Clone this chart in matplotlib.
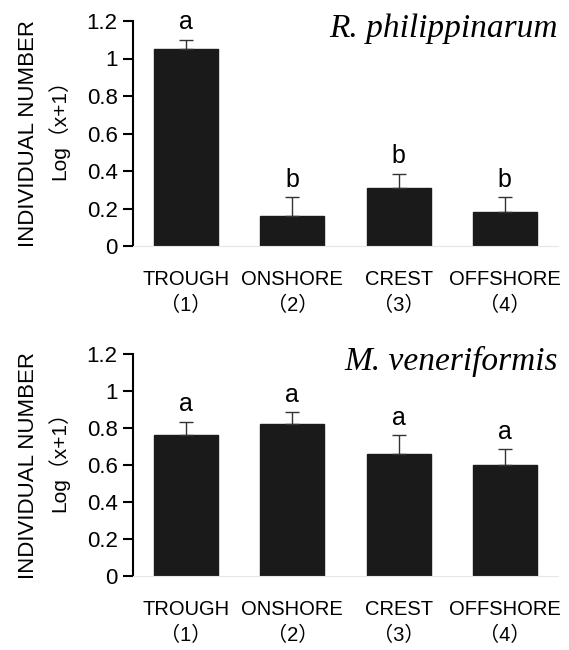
import matplotlib
matplotlib.use('Agg')
import matplotlib.pyplot as plt

plt.rcParams['font.family'] = ['Liberation Sans', 'Noto Sans CJK JP']

# Data
sites = ['TROUGH\n（1）', 'ONSHORE\n（2）', 'CREST\n（3）', 'OFFSHORE\n（4）']
rp_means = [1.05, 0.16, 0.31, 0.18]
rp_errs = [0.05, 0.10, 0.075, 0.08]
rp_letters = ['a', 'b', 'b', 'b']
mv_means = [0.76, 0.82, 0.66, 0.60]
mv_errs = [0.075, 0.065, 0.10, 0.085]
mv_letters = ['a', 'a', 'a', 'a']
yticks = [0, 0.2, 0.4, 0.6, 0.8, 1.0, 1.2]
ytick_labels = ['0', '0.2', '0.4', '0.6', '0.8', '1', '1.2']

fig = plt.figure(figsize=(5.69, 6.5), dpi=100)
ax1 = fig.add_axes([0.2337, 0.6215, 0.747, 0.3462])
ax2 = fig.add_axes([0.2337, 0.1138, 0.747, 0.3416])


def draw_panel(ax, means, errs, letters, species):
    x = range(len(sites))
    ax.bar(x, means, width=0.6, color='#1a1a1a', edgecolor='#1a1a1a', zorder=2)
    ax.errorbar(x, means, yerr=[[0] * len(errs), errs], fmt='none',
                ecolor='#333333', elinewidth=1, capsize=5, capthick=1, zorder=3)
    for i, (m, e, l) in enumerate(zip(means, errs, letters)):
        ax.text(i, m + e + 0.03, l, ha='center', va='bottom', fontsize=18)
    ax.set_xlim(-0.5, 3.5)
    ax.set_ylim(0, 1.2)
    ax.set_yticks(yticks)
    ax.set_yticklabels(ytick_labels, fontsize=16)
    ax.set_xticks(list(x))
    ax.set_xticklabels(sites, fontsize=14.5, linespacing=1.5)
    ax.tick_params(axis='x', length=0, pad=17)
    ax.tick_params(axis='y', direction='out', length=7, width=1.5, pad=4)
    for s in ['top', 'right']:
        ax.spines[s].set_visible(False)
    ax.spines['left'].set_linewidth(1.5)
    ax.spines['bottom'].set_color('#e6e6e6')
    ax.spines['bottom'].set_linewidth(0.8)
    ax.text(1.0, 1.035, species, transform=ax.transAxes, ha='right', va='top',
            fontsize=24, fontstyle='italic', family='Liberation Serif')
    ax.text(-0.245, 0.5, 'INDIVIDUAL NUMBER', transform=ax.transAxes, rotation=90,
            ha='center', va='center', fontsize=16)
    ax.text(-0.175, 0.54, 'Log（x+1）', transform=ax.transAxes, rotation=90,
            ha='center', va='center', fontsize=15)


draw_panel(ax1, rp_means, rp_errs, rp_letters, 'R. philippinarum')
draw_panel(ax2, mv_means, mv_errs, mv_letters, 'M. veneriformis')

fig.savefig('out.png', dpi=100)
